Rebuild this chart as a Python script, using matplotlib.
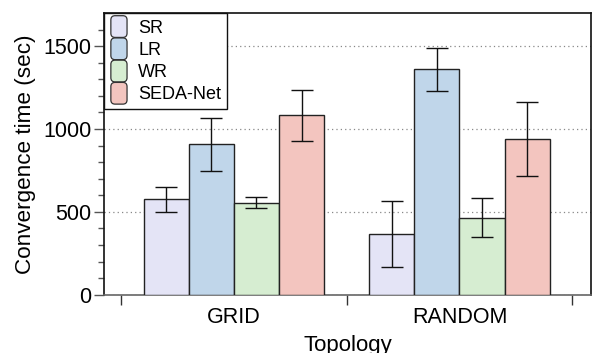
import numpy as np
import matplotlib
matplotlib.use("Agg")
import matplotlib.pyplot as plt
from matplotlib.patches import FancyBboxPatch
from matplotlib.legend_handler import HandlerPatch

# -------------------------
#  データ
# -------------------------
topologies = ["GRID", "RANDOM"]
methods = ["SR", "LR", "WR", "SEDA-Net"]

sr_mean   = [575, 366]
lr_mean   = [907, 1361]
wr_mean   = [556, 466]
seda_mean = [1082, 940]

sr_err   = [78, 200]
lr_err   = [162, 130]
wr_err   = [33, 115]
seda_err = [155, 221]

colors = ["#E4E4F6", "#C0D6EA", "#D6EDD1", "#F3C5BF"]

plt.rcParams["font.family"] = ["Liberation Sans", "DejaVu Sans"]


class RoundBoxHandler(HandlerPatch):
    def create_artists(self, legend, orig_handle, xdescent, ydescent,
                       width, height, fontsize, trans):
        p = FancyBboxPatch((-xdescent + 1, -ydescent - 2), width - 2, height + 4,
                           boxstyle="round,pad=0,rounding_size=3",
                           facecolor=orig_handle.get_facecolor(),
                           edgecolor="#333333", linewidth=0.9)
        p.set_transform(trans)
        return [p]


fig, ax = plt.subplots(figsize=(5.98, 3.53), dpi=100)
fig.subplots_adjust(left=0.174, right=0.988, top=0.963, bottom=0.165)

x = np.arange(len(topologies))
w = 0.2
means = [sr_mean, lr_mean, wr_mean, seda_mean]
errs = [sr_err, lr_err, wr_err, seda_err]

handles = []
for i, (m, e, c, lab) in enumerate(zip(means, errs, colors, methods)):
    b = ax.bar(x + (i - 1.5) * w, m, w, yerr=e, color=c, edgecolor="#222222",
               linewidth=1.0, label=lab, zorder=3,
               error_kw=dict(ecolor="#111111", elinewidth=1.0, capsize=8,
                             capthick=1.0, zorder=4))
    handles.append(b.patches[0])

ax.set_xlim(-0.575, 1.582)
ax.set_ylim(0, 1700)
ax.set_yticks([0, 500, 1000, 1500])
ax.set_yticks(np.arange(0, 1700, 100), minor=True)
ax.set_xticks(x)
ax.set_xticklabels(topologies)
ax.set_xticks([-0.5, 0.5, 1.5], minor=True)
ax.tick_params(axis="x", which="major", length=0, labelsize=15.5, pad=9)
ax.tick_params(axis="x", which="minor", length=7, width=1, color="#333333")
ax.tick_params(axis="y", which="major", length=7, width=1, labelsize=15.5,
               color="#555555", pad=2)
ax.tick_params(axis="y", which="minor", length=4, width=1, color="#555555")

ax.yaxis.grid(True, which="major", linestyle=(0, (1, 2.5)), color="#888888",
              linewidth=0.9, zorder=0)
ax.set_axisbelow(True)

for s in ax.spines.values():
    s.set_linewidth(1.2)
    s.set_color("#111111")
ax.spines["bottom"].set_color("#666666")

ax.set_xlabel("Topology", fontsize=16, labelpad=5)
ax.set_ylabel("Convergence time (sec)", fontsize=16.2, labelpad=5)

leg = ax.legend(handles=handles, labels=methods, loc="upper left",
                fontsize=13, frameon=True, fancybox=False, borderaxespad=0,
                handlelength=1.05, handleheight=1.0, handletextpad=0.55,
                labelspacing=0.22, borderpad=0.3,
                handler_map={h: RoundBoxHandler() for h in handles})
leg.get_frame().set_edgecolor("#111111")
leg.get_frame().set_linewidth(1.0)
leg.get_frame().set_alpha(1.0)

fig.savefig("out.png", dpi=100)
